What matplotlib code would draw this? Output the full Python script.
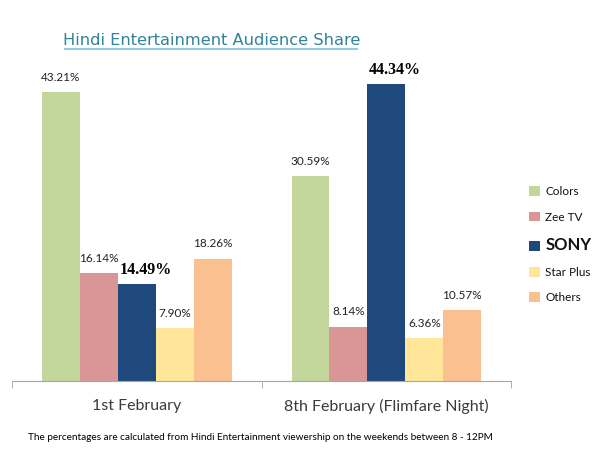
import matplotlib
matplotlib.use("Agg")
import matplotlib.pyplot as plt
import numpy as np
from matplotlib.lines import Line2D
from matplotlib.patches import Patch

categories = ["1st February", "8th February (Flimfare Night)"]
series = ["Colors", "Zee TV", "SONY", "Star Plus", "Others"]
values = {
    "Colors":    [43.21, 30.59],
    "Zee TV":    [16.14, 8.14],
    "SONY":      [14.49, 44.34],
    "Star Plus": [7.90, 6.36],
    "Others":    [18.26, 10.57],
}
colors = ["#C3D69B", "#D99694", "#1F497D", "#FFE699", "#FAC090"]

fig = plt.figure(figsize=(6, 4.5), dpi=100)
ax = fig.add_axes([0.02, 0.1533, 0.832, 0.7433])

x = np.arange(len(categories))
w = 0.152
for i, s in enumerate(series):
    pos = x + (i - 2) * w
    bars = ax.bar(pos, values[s], width=w, color=colors[i], label=s)
    for b, v in zip(bars, values[s]):
        if s == "SONY":
            ax.text(b.get_x() + w / 2 + 0.035, v + 0.9, f"{v:.2f}%", ha="center", va="bottom",
                    fontsize=11.5, fontweight="bold", family="Liberation Serif", color="#000000")
        else:
            ax.text(b.get_x() + w / 2, v + 1.4, f"{v:.2f}%", ha="center", va="bottom",
                    fontsize=8.5, family="Lato", color="#222222")

ax.set_xlim(-0.5, 1.5)
ax.set_ylim(0, 50)
for sp in ["top", "right", "left"]:
    ax.spines[sp].set_visible(False)
ax.spines["bottom"].set_color("#A6A6A6")
ax.set_yticks([])
ax.set_xticks([-0.5, 0.5, 1.5], minor=True)
ax.tick_params(axis="x", which="minor", length=5, color="#A6A6A6")
ax.set_xticks(x)
ax.set_xticklabels(categories, fontsize=11.5, color="#3A3A3A", family="Lato")
ax.tick_params(axis="x", which="major", length=0, pad=13)

handles = [Patch(facecolor=c) for c in colors]
leg = fig.legend(handles, series, loc="center left", bbox_to_anchor=(0.882, 0.456),
                 frameon=False, handlelength=0.9, handleheight=0.9, labelspacing=1.2,
                 handletextpad=0.45, borderpad=0, borderaxespad=0,
                 prop={"size": 8.5, "family": "Lato"})
for t in leg.get_texts():
    t.set_color("#111111")
    if t.get_text() == "SONY":
        t.set_fontsize(12)
        t.set_fontweight("bold")

fig.text(0.352, 0.893, "Hindi Entertainment Audience Share", ha="center", va="bottom",
         fontsize=11.7, color="#31849B", family="DejaVu Sans")
fig.add_artist(Line2D([0.108, 0.595], [0.891, 0.891], color="#92CDDC", lw=1.5))

fig.text(0.047, 0.017, "The percentages are calculated from Hindi Entertainment viewership on the weekends between 8 - 12PM",
         ha="left", va="bottom", fontsize=7.2, family="Lato", color="#000000")

fig.savefig("out.png", dpi=100)
